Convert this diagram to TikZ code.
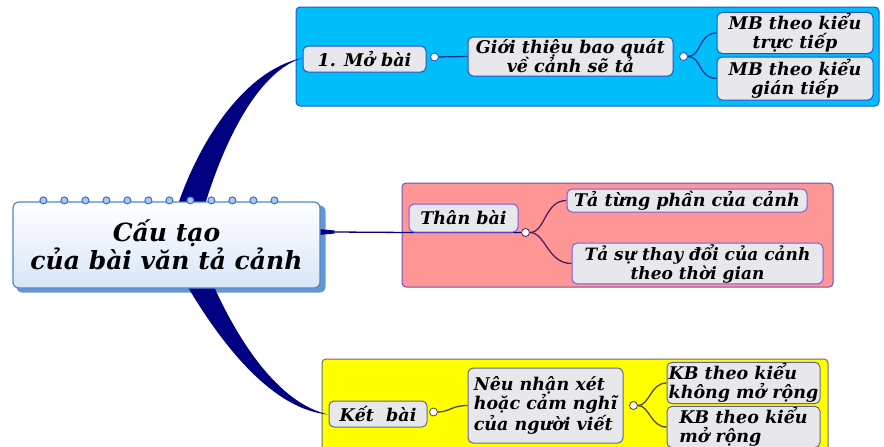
\documentclass[tikz,border=0pt]{standalone}
\usepackage{fontspec}
\setmainfont{DejaVu Serif}
\usetikzlibrary{calc}

\definecolor{navy}{RGB}{0,0,128}
\definecolor{skyfill}{RGB}{0,190,250}
\definecolor{skyedge}{RGB}{30,90,200}
\definecolor{boxgray}{RGB}{232,232,236}
\definecolor{boxblue}{RGB}{40,80,200}
\definecolor{blueline}{RGB}{20,50,140}
\definecolor{pinkfill}{RGB}{255,150,150}
\definecolor{pinkedge}{RGB}{110,80,200}
\definecolor{pinkbox}{RGB}{120,90,230}
\definecolor{pinkline}{RGB}{80,30,100}
\definecolor{yellowfill}{RGB}{255,255,0}
\definecolor{yellowedge}{RGB}{110,110,110}
\definecolor{yellowbox}{RGB}{100,100,150}
\definecolor{yellowline}{RGB}{80,70,40}
\definecolor{rootedge}{RGB}{80,135,200}
\definecolor{rootfill}{RGB}{215,230,248}
\definecolor{rootshade}{RGB}{100,150,215}
\definecolor{ringblue}{RGB}{60,110,190}
\definecolor{ringlight}{RGB}{170,200,240}

\pgfdeclarelayer{bg}
\pgfdeclarelayer{links}
\pgfsetlayers{bg,links,main}

\tikzset{
  panel/.style={line width=1pt, rounded corners=4pt},
  topic/.style={draw, rounded corners=5pt, fill=boxgray, line width=1pt, inner sep=1pt,
    align=center, font=\fontsize{17.5}{19}\selectfont\bfseries\itshape},
  knob/.style={circle, draw, fill=white, inner sep=0pt, minimum size=8pt, line width=0.8pt},
  link/.style={line width=1.3pt},
}

\begin{document}
\begin{tikzpicture}[x=1pt,y=-1pt]
\useasboundingbox (0,0) rectangle (884,447);

% the three panels
\begin{pgfonlayer}{bg}
  \draw[panel, fill=skyfill, draw=skyedge] (296,7) rectangle (879,106);
  \draw[panel, fill=pinkfill, draw=pinkedge] (402,183) rectangle (833,287);
  \draw[panel, fill=yellowfill, draw=yellowedge] (322,359) rectangle (828,452);
\end{pgfonlayer}

% centre
\node[draw=rootedge, line width=1.2pt, rounded corners=6pt, top color=white, bottom color=rootfill,
  minimum width=307pt, minimum height=86pt, align=center,
  font=\fontsize{25}{28}\selectfont\bfseries\itshape] (root) at (166.5,245) {Cấu tạo\\của bài văn tả cảnh};
\begin{pgfonlayer}{bg}
  \fill[rootshade, rounded corners=6pt] ($(root.south west)+(4,4)$) rectangle ($(root.north east)+(5,4)$);
\end{pgfonlayer}
\foreach \i in {0,...,11}
  \draw[ringblue, fill=ringlight, line width=1pt] ($(root.north west)+(31+21*\i,-1)$) circle (3.5pt);

% Mo bai
\node[topic, draw=boxblue, minimum width=123pt, minimum height=26pt] (mo) at (364.5,59) {1. Mở bài};
\node[knob, draw=boxblue] (k1) at ($(mo.east)+(8,-2)$) {};
\node[topic, draw=boxblue, minimum width=205pt, minimum height=39pt] (gioithieu) at (570.5,56.5) {Giới thiệu bao quát\\về cảnh sẽ tả};
\node[knob, draw=boxblue] (k2) at ($(gioithieu.east)+(10,0)$) {};
\node[topic, draw=boxblue, minimum width=156pt, minimum height=40pt] (mb1) at (795,33) {MB theo kiểu\\trực tiếp};
\node[topic, draw=boxblue, minimum width=156pt, minimum height=43pt] (mb2) at (795,78.5) {MB theo kiểu\\gián tiếp};

% Than bai
\node[topic, draw=pinkbox, minimum width=109pt, minimum height=28pt] (than) at (463.5,218) {Thân bài};
\node[knob, draw=pinkline] (k3) at ($(than.south east)+(7,0)$) {};
\node[topic, draw=pinkbox, minimum width=240pt, minimum height=23pt] (ta1) at (687,200.5) {Tả từng phần của cảnh};
\node[topic, draw=pinkbox, minimum width=251pt, minimum height=37pt, font=\fontsize{17}{19}\selectfont\bfseries\itshape] (ta2) at (697.5,263.5) {Tả sự thay đổi của cảnh\\theo thời gian};

% Ket bai
\node[topic, draw=yellowbox, minimum width=98pt, minimum height=26pt] (ket) at (378,414) {Kết~ bài};
\node[knob, draw=yellowline] (k5) at ($(ket.east)+(6,-2)$) {};
\node[topic, draw=yellowbox, align=left, minimum width=155pt, minimum height=75pt] (nhanxet) at (545.5,405.5) {Nêu nhận xét\\hoặc cảm nghĩ\\của người viết};
\node[knob, draw=yellowline] (k6) at ($(nhanxet.east)+(10,0)$) {};
\node[topic, draw=yellowbox, align=left, minimum width=153pt, minimum height=38pt] (kb1) at (743.5,383) {KB theo kiểu\\không mở rộng};
\node[topic, draw=yellowbox, align=left, minimum width=153pt, minimum height=38pt] (kb2) at (743.5,427) {KB theo kiểu\\mở rộng};

\begin{pgfonlayer}{links}
  % tapered branches
  \fill[navy] ($(root.north)+(11.5,3)$) .. controls (200,140) and (245,70) .. ($(mo.west)+(0,-1)$)
    .. controls (262,70) and (228,130) .. ($(root.north)+(38.5,3)$) -- cycle;
  \coordinate (stub) at ($(root.east)+(14,-13)$);
  \fill[navy] ($(root.east)+(-2,-16)$) -- ($(stub)+(0,-1.5)$) -- ($(stub)+(0,1.5)$) -- ($(root.east)+(-2,-10)$) -- cycle;
  \fill[navy] ($(root.south)+(20.5,-3)$) .. controls (225,350) and (275,410) .. ($(ket.west)+(0,0.5)$)
    .. controls (285,405) and (245,355) .. ($(root.south)+(47,-3)$) -- cycle;
  \draw[link, navy] (stub) -- (than.south west) -- (k3);
  % blue panel
  \draw[link, blueline] (k1) -- (gioithieu.west);
  \draw[link, blueline] (k2) .. controls +(18,0) and +(-18,0) .. (mb1.west);
  \draw[link, blueline] (k2) .. controls +(18,0) and +(-18,0) .. (mb2.west);
  % pink panel
  \draw[link, pinkline] (k3) .. controls +(20,0) and +(-22,0) .. (ta1.west);
  \draw[link, pinkline] (k3) .. controls +(20,0) and +(-24,0) .. (ta2.west);
  % yellow panel
  \draw[link, yellowline] (k5) .. controls +(16,0) and +(-16,0) .. (nhanxet.west);
  \draw[link, yellowline] (k6) .. controls +(16,0) and +(-16,0) .. (kb1.west);
  \draw[link, yellowline] (k6) .. controls +(16,0) and +(-16,0) .. (kb2.west);
\end{pgfonlayer}
\end{tikzpicture}
\end{document}
